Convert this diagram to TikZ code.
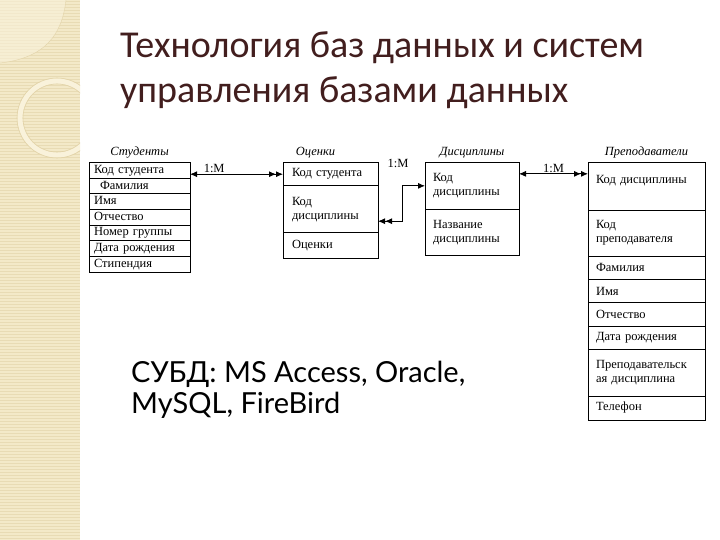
\documentclass[tikz,border=0pt]{standalone}
\usepackage{fontspec}
\usetikzlibrary{positioning,arrows.meta}
\newfontfamily\tnr{Liberation Serif}
\newfontfamily\ttlfont{Carlito}
\newfontfamily\subfont{Lato}
\definecolor{strip}{RGB}{243,233,200}
\definecolor{stripln}{RGB}{232,219,180}
\definecolor{striphi}{RGB}{249,242,219}
\definecolor{stripedge}{RGB}{226,211,168}
\definecolor{ttl}{RGB}{66,30,30}

\begin{document}
\begin{tikzpicture}[x=1pt,y=-1pt,>={Latex[length=7pt,width=6pt]},node distance=0pt,
  row/.style={draw,line width=0.8pt,outer sep=0pt,align=left,inner ysep=1pt,font=\tnr\fontsize{12.5}{14}\selectfont},
  srow/.style={row,text width=91pt,inner xsep=5pt,inner ysep=0pt,text height=9pt,text depth=3pt,minimum height=15.6pt},
  orow/.style={row,text width=77pt,inner xsep=9pt},
  drow/.style={row,text width=78pt,inner xsep=8pt},
  prow/.style={row,text width=101pt,inner xsep=8pt},
  tcap/.style={font=\tnr\itshape\fontsize{12.5}{14}\selectfont},
  rel/.style={font=\tnr\fontsize{12.5}{14}\selectfont,inner sep=1pt}]
  \useasboundingbox (0,0) rectangle (720,540);
  \fill[white] (0,0) rectangle (720,540);
  % left strip
  \fill[strip] (0,0) rectangle (80,540);
  \foreach \y in {1.5,4.5,...,538.5} \draw[stripln,line width=0.6pt] (0,\y) -- (80,\y);
  \begin{scope}
    \clip (0,0) rectangle (80,540);
    \fill[striphi,opacity=0.6] (0,0) -- (66,0) .. controls (62,35) and (45,58) .. (0,63) -- cycle;
    \draw[stripedge] (66,0) .. controls (62,35) and (45,58) .. (0,63);
    \draw[striphi,line width=5pt] (57,118) circle[radius=37];
    \draw[stripedge,line width=0.6pt] (57,118) circle[radius=40] (57,118) circle[radius=34];
  \end{scope}
  % title
  \node[anchor=base west,inner sep=0pt,text=ttl,font=\ttlfont\fontsize{38}{45}\selectfont] (ttl1) at (120,58) {Технология баз данных и систем};
  \node[anchor=base west,inner sep=0pt,text=ttl,font=\ttlfont\fontsize{38}{45}\selectfont] (ttl2) at (120,103) {управления базами данных};
  % tables
  \node[srow,anchor=north west] (st1) at (89,162.7) {Код студента};
  \node[srow,below=of st1] (st2) {\hspace*{6pt}Фамилия};
  \node[srow,below=of st2] (st3) {Имя};
  \node[srow,below=of st3] (st4) {Отчество};
  \node[srow,below=of st4] (st5) {Номер группы};
  \node[srow,below=of st5] (st6) {Дата рождения};
  \node[srow,below=of st6] (st7) {Стипендия};
  \node[tcap,above=1pt of st1] (tst) {Студенты};

  \node[orow,anchor=north west,minimum height=23pt] (oc1) at (283,162.7) {Код студента};
  \node[orow,below=of oc1,minimum height=47pt] (oc2) {Код\\дисциплины};
  \node[orow,below=of oc2,minimum height=25.3pt] (oc3) {Оценки};
  \node[tcap,above=1pt of oc1,xshift=-15pt] (toc) {Оценки};

  \node[drow,anchor=north west,minimum height=46.3pt] (ds1) at (425,162.7) {Код\\дисциплины};
  \node[drow,below=of ds1,minimum height=46.7pt] (ds2) {Название\\дисциплины};
  \node[tcap,above=1pt of ds1] (tds) {Дисциплины};

  \node[prow,anchor=north west,minimum height=47.3pt] (pr1) at (588,162.7) {Код дисциплины\\\mbox{}};
  \node[prow,below=of pr1,minimum height=46pt] (pr2) {Код\\преподавателя};
  \node[prow,below=of pr2,minimum height=23.3pt] (pr3) {Фамилия};
  \node[prow,below=of pr3,minimum height=23.3pt] (pr4) {Имя};
  \node[prow,below=of pr4,minimum height=23.3pt] (pr5) {Отчество};
  \node[prow,below=of pr5,minimum height=23.3pt] (pr6) {Дата рождения};
  \node[prow,below=of pr6,minimum height=46.7pt] (pr7) {Преподавательск\\ая дисциплина};
  \node[prow,below=of pr7,minimum height=24pt] (pr8) {Телефон};
  \node[tcap,above=1pt of pr1] (tpr) {Преподаватели};
  % links
  \draw[line width=0.8pt,<->>] (oc1.west -| st1.east) -- node[rel,above,pos=0.26] (m1) {1:M} (oc1.west);
  \draw[line width=0.8pt,<->>] (ds1.west) -- ++(-23,0) |- ([yshift=-12pt]oc2.east);
  \node[rel] (m2) at (398,163) {1:M};
  \draw[line width=0.8pt,<->>] ([yshift=12pt]ds1.east) -- node[rel,above] (m3) {1:M} ([yshift=12pt]ds1.east -| pr1.west);
  % dbms
  \node[anchor=base west,inner sep=0pt,font=\subfont\fontsize{29}{31}\selectfont] (sub1) at (131,382) {СУБД: MS Access, Oracle,};
  \node[anchor=base west,inner sep=0pt,font=\subfont\fontsize{29}{31}\selectfont] (sub2) at (131,413) {MySQL, FireBird};
\end{tikzpicture}
\end{document}
